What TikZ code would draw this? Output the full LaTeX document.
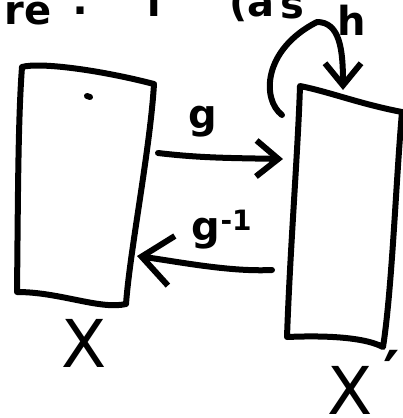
\documentclass[tikz,border=0pt]{standalone}
\usepackage{fontspec}
\setmainfont{DejaVu Sans}
\usetikzlibrary{arrows.meta}
\tikzset{
  ink/.style={line width=6pt, line cap=round, line join=round, black},
  lbl/.style={inner sep=0pt, font=\fontsize{40}{40}\selectfont\bfseries},
  big/.style={inner sep=0pt, font=\fontsize{66}{66}\selectfont},
  head/.style={-{Straight Barb[length=22pt,width=36pt,line width=6pt]}}
}
\begin{document}
\begin{tikzpicture}[x=1pt,y=-1pt]
\useasboundingbox (0,0) rectangle (403,418);
\clip (0,0) rectangle (403,418);
% top partial text (cut off by the edge, as in the reference)
\node[lbl, anchor=base] (t1) at (28,24) {re};
\node[lbl, anchor=base] (t2) at (80,14) {:};
\node[lbl, anchor=base] (t3) at (155,16) {f};
\node[lbl, anchor=base] (t4) at (252,16) {(a};
\node[lbl, anchor=base] (t5) at (292,18) {s};
% left box X
\coordinate (ltl) at (22,67);
\coordinate (ltr) at (154,84);
\coordinate (lbr) at (126,304);
\coordinate (lbot) at (17,292);
\draw[ink] (ltl) .. controls (40,62) and (100,70) .. (ltr)
  .. controls (150,150) and (130,250) .. (lbr)
  .. controls (100,310) and (60,292) .. (lbot)
  .. controls (18,200) and (18,120) .. cycle;
\draw[ink] (87,96) -- (90,97);
% right box X'
\coordinate (rtl) at (300,86);
\coordinate (rtr) at (402,112);
\coordinate (rbr) at (383,347);
\coordinate (rbl) at (287,337);
\draw[ink] (rtl) .. controls (330,92) and (360,104) .. (rtr)
  .. controls (396,180) and (392,290) .. (rbr)
  .. controls (360,335) and (310,336) .. (rbl)
  .. controls (290,250) and (298,150) .. cycle;
% arrows between the boxes
\coordinate (ga) at (158,153);
\coordinate (gb) at (283,159);
\draw[ink, head] (ga) .. controls (200,158) and (230,158) .. (gb);
\node[lbl] (g) at (203,122) {g};
\coordinate (ia) at (272,270);
\coordinate (ib) at (137,256);
\draw[ink, -{Straight Barb[length=30pt,width=50pt,line width=6pt]}] (ia) .. controls (230,272) and (180,262) .. (ib);
\node[lbl, anchor=base] (ginv) at (222,240) {g\textsuperscript{-1}};
% self map h
\coordinate (ha) at (282,115);
\coordinate (hb) at (343,90);
\draw[ink, head] (ha) .. controls (262,100) and (262,50) .. (317,22)
  .. controls (340,22) and (343,50) .. (hb);
\node[lbl] (h) at (352,20) {h};
% labels
\node[big] (X) at (84,343) {X};
\node[big] (Xp) at (350,390) {X};
\node[lbl, font=\fontsize{62}{62}\selectfont\bfseries] (prime) at (392,373) {′};
\end{tikzpicture}
\end{document}
